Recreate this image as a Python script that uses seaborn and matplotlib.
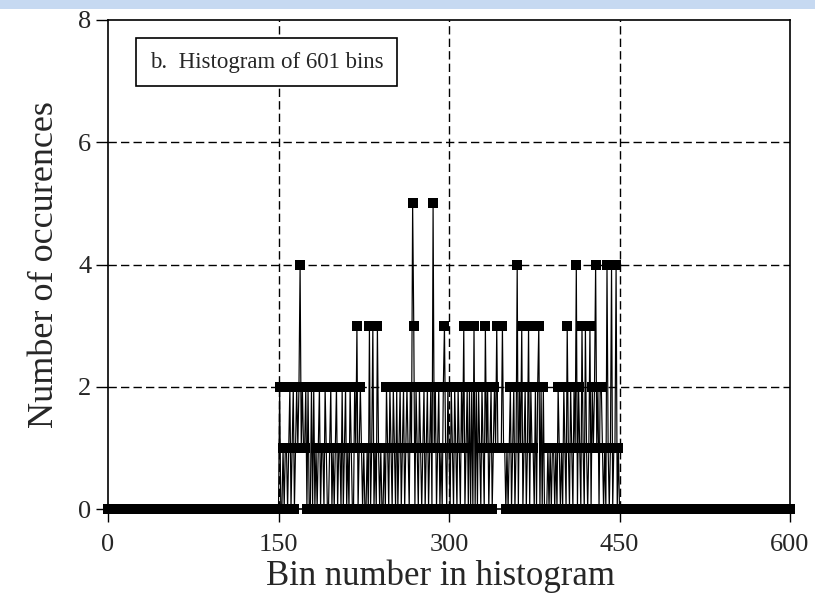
import matplotlib
matplotlib.use("Agg")
import matplotlib.pyplot as plt
import seaborn as sns
import numpy as np
import pandas as pd

# Histogram of 601 bins: occupied only between bins 150 and 450
n_bins = 601
lead_zeros = [0] * 150          # bins 0..149
trail_zeros = [0] * 150         # bins 451..600
counts_mid = [
    0, 2, 0, 0, 1, 0, 1, 1, 0, 1,   # 150
    2, 0, 1, 2, 0, 1, 2, 1, 2, 4,   # 160
    1, 2, 1, 1, 2, 0, 2, 0, 0, 2,   # 170
    0, 2, 0, 1, 0, 1, 2, 0, 1, 1,   # 180
    0, 2, 1, 0, 0, 1, 2, 0, 1, 0,   # 190
    1, 2, 0, 1, 1, 0, 2, 0, 1, 2,   # 200
    0, 1, 0, 2, 1, 0, 0, 2, 1, 3,   # 210
    0, 1, 2, 1, 0, 1, 0, 0, 1, 0,   # 220
    3, 0, 1, 3, 0, 1, 0, 3, 1, 0,   # 230
    1, 0, 0, 1, 0, 2, 1, 0, 2, 1,   # 240
    0, 2, 1, 0, 2, 0, 1, 2, 0, 1,   # 250
    2, 0, 1, 2, 1, 0, 2, 1, 5, 3,   # 260
    0, 2, 1, 0, 2, 1, 0, 1, 2, 0,   # 270
    1, 2, 0, 1, 2, 0, 5, 1, 2, 0,   # 280
    1, 2, 0, 1, 0, 2, 3, 1, 0, 2,   # 290
    1, 0, 2, 1, 0, 2, 1, 0, 2, 1,   # 300
    0, 2, 1, 3, 0, 1, 2, 0, 2, 0,   # 310
    2, 0, 3, 0, 2, 0, 2, 1, 0, 2,   # 320
    1, 0, 3, 1, 2, 0, 1, 2, 0, 1,   # 330
    2, 1, 3, 1, 1, 1, 1, 3, 1, 1,   # 340
    0, 1, 0, 1, 2, 0, 1, 2, 0, 1,   # 350
    4, 0, 2, 1, 3, 0, 1, 2, 0, 1,   # 360
    3, 0, 2, 1, 1, 0, 2, 0, 2, 3,   # 370
    0, 2, 0, 2, 0, 0, 0, 1, 0, 1,   # 380
    0, 1, 1, 0, 1, 0, 2, 1, 0, 1,   # 390
    0, 2, 1, 0, 3, 1, 0, 2, 1, 0,   # 400
    2, 1, 4, 0, 2, 1, 0, 3, 1, 0,   # 410
    3, 1, 0, 1, 3, 0, 2, 1, 2, 4,   # 420
    1, 2, 0, 2, 2, 1, 0, 1, 0, 4,   # 430
    1, 0, 1, 4, 0, 1, 1, 4, 0, 1,   # 440
    0,                              # 450
]

counts = lead_zeros + counts_mid + trail_zeros
df = pd.DataFrame({"bin": np.arange(n_bins), "count": counts})

x_ticks = [0, 150, 300, 450, 600]
y_ticks = [0, 2, 4, 6, 8]
title_text = "b.  Histogram of 601 bins"

sns.set_theme(style="white")
plt.rcParams["font.family"] = ["Liberation Serif", "DejaVu Serif"]
plt.rcParams["axes.linewidth"] = 1.2

fig = plt.figure(figsize=(8.15, 5.94), dpi=100)
fig.patch.set_facecolor("white")
# pale blue strip across the top edge
fig.patches.append(plt.Rectangle((0, 1 - 9 / 594), 1, 9 / 594, transform=fig.transFigure,
                                 facecolor="#c6d9f1", edgecolor="none", zorder=0))

ax = fig.add_axes([108 / 815, 1 - 509 / 594, 682 / 815, 489 / 594])

sns.lineplot(data=df, x="bin", y="count", ax=ax, color="black", linewidth=0.85,
             marker="s", markersize=7, markeredgewidth=0, markerfacecolor="black",
             clip_on=False, zorder=3, estimator=None)

ax.set_xlim(0, 600)
ax.set_ylim(0, 8)
ax.set_xticks(x_ticks)
ax.set_yticks(y_ticks)
ax.set_xticklabels([str(v) for v in x_ticks])
ax.set_yticklabels([str(v) for v in y_ticks])

for v in x_ticks[1:-1]:
    ax.axvline(v, color="black", linewidth=1.0, linestyle=(0, (6, 3)), zorder=1)
for v in y_ticks[1:-1]:
    ax.axhline(v, color="black", linewidth=1.0, linestyle=(0, (6, 3)), zorder=1)

ax.tick_params(axis="x", direction="out", length=9, width=1.0, color="black",
               labelsize=19, pad=9, bottom=True)
ax.tick_params(axis="y", direction="out", length=9, width=1.0, color="black",
               labelsize=19, pad=3, left=True)
for s in ax.spines.values():
    s.set_color("black")
    s.set_linewidth(1.2)

ax.set_xlabel("Bin number in histogram", fontsize=25)
ax.xaxis.set_label_coords(0.487, -0.104)
ax.set_ylabel("Number of occurences", fontsize=26, labelpad=12)

ax.text(0.0616, 0.914, title_text, transform=ax.transAxes, fontsize=16.5,
        ha="left", va="center",
        bbox=dict(boxstyle="square,pad=0.6", facecolor="white", edgecolor="black", linewidth=1.2),
        zorder=5)

fig.savefig("out.png", dpi=100)
